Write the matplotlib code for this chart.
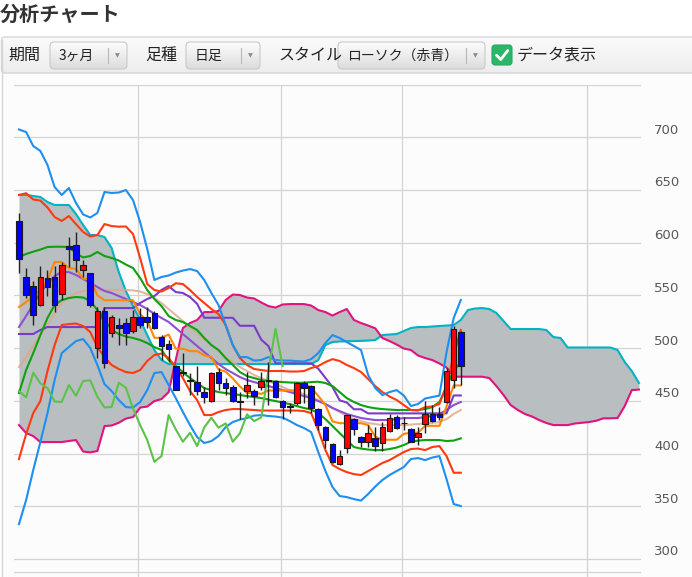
import numpy as np
import matplotlib
matplotlib.use('Agg')
import matplotlib.pyplot as plt
from matplotlib.patches import FancyBboxPatch
import matplotlib.transforms as mtransforms

plt.rcParams['font.family'] = ['Noto Sans CJK JP', 'DejaVu Sans']

W, H = 692, 577

# ---------------- data ----------------
opens = [620.6, 567.7, 558.9, 541.2, 566.8, 567.2, 551.6, 596.9, 597.8, 574.1,
         571.0, 500.4, 535.2, 514.6, 521.9, 523.5, 516.2, 529.2, 529.8, 533.0,
         510.8, 503.6, 482.6, 477.0, 469.3, 468.1, 458.6, 450.1, 477.0, 466.6,
         462.8, 449.2, 459.3, 459.3, 462.8, 469.0, 469.1, 449.8, 444.6, 447.6,
         467.2, 464.0, 441.9, 424.8, 409.0, 390.0, 405.5, 432.7, 415.4, 411.2,
         414.4, 410.2, 421.3, 435.0, 429.4, 423.0, 416.0, 427.7, 437.2, 437.2,
         448.6, 469.7, 515.0]
highs = [628.5, 575.7, 563.7, 577.9, 574.1, 578.2, 582.0, 605.1, 609.9, 583.6,
         571.5, 538.7, 538.7, 531.4, 528.3, 528.3, 536.1, 538.3, 538.7, 535.2,
         512.0, 507.7, 483.5, 495.0, 476.0, 482.6, 463.4, 477.5, 480.8, 471.3,
         465.0, 458.6, 477.6, 461.0, 477.0, 487.1, 470.0, 451.0, 447.6, 468.0,
         468.5, 465.0, 443.0, 426.0, 410.0, 403.3, 437.0, 434.0, 417.0, 427.0,
         425.4, 430.0, 437.2, 436.5, 435.0, 424.0, 425.4, 450.1, 446.0, 444.4,
         481.4, 521.2, 516.0]
lows = [571.2, 547.5, 521.9, 540.0, 549.4, 534.5, 545.6, 577.2, 572.5, 567.7,
        539.3, 490.3, 480.8, 510.8, 502.9, 502.9, 514.0, 518.8, 518.8, 517.8,
        488.7, 487.1, 460.0, 474.0, 455.5, 455.5, 447.6, 449.0, 460.5, 455.5,
        449.0, 432.4, 452.4, 446.0, 460.5, 446.0, 453.0, 432.4, 438.1, 446.0,
        448.0, 438.1, 422.3, 404.9, 391.0, 389.0, 400.2, 417.5, 406.5, 406.5,
        402.4, 402.4, 420.5, 423.0, 422.3, 410.5, 408.0, 419.7, 429.6, 432.0,
        447.6, 461.9, 465.0]
closes = [584.5, 550.4, 531.1, 567.2, 557.7, 540.6, 578.8, 594.0, 583.6, 578.8,
          540.9, 535.2, 485.6, 529.2, 518.8, 514.0, 529.2, 521.9, 525.0, 519.3,
          502.0, 499.1, 460.5, 476.0, 468.5, 459.3, 453.3, 476.7, 466.6, 462.1,
          449.4, 448.9, 465.0, 454.8, 468.8, 469.5, 453.9, 443.7, 444.2, 467.2,
          462.4, 442.9, 427.0, 412.8, 392.2, 397.6, 436.5, 423.0, 411.2, 419.7,
          407.1, 424.8, 434.0, 424.5, 428.6, 411.2, 419.2, 437.2, 430.8, 434.3,
          478.3, 518.4, 483.0]

band_blue_upper = [707.4, 705.0, 691.7, 687.0, 673.7, 652.8, 645.3, 651.9, 637.7, 626.8,
                   623.9, 628.2, 648.1, 647.2, 647.6, 650.0, 640.5, 619.6, 594.0, 564.6,
                   567.5, 568.9, 571.7, 573.6, 575.0, 573.1, 564.6, 552.3, 540.9, 521.9,
                   502.9, 491.5, 491.5, 488.2, 488.7, 491.5, 488.7, 488.2, 488.2, 487.7,
                   487.3, 489.6, 495.3, 504.8, 512.4, 509.6, 505.8, 502.0, 498.2, 474.5,
                   462.1, 455.5, 458.3, 460.2, 455.1, 445.1, 447.0, 452.2, 453.6, 455.0,
                   496.3, 528.5, 545.6]
band_blue_lower = [333.1, 355.9, 384.3, 410.9, 438.4, 469.7, 495.3, 501.0, 506.7, 508.6,
                   500.1, 484.0, 465.9, 459.3, 450.8, 444.1, 443.6, 448.9, 460.2, 476.4,
                   477.3, 465.0, 452.6, 439.4, 427.0, 415.6, 410.0, 411.8, 416.6, 425.1,
                   429.9, 432.2, 433.7, 436.0, 436.5, 435.6, 435.1, 434.1, 430.8, 427.0,
                   424.2, 420.4, 401.4, 383.4, 368.2, 359.7, 358.7, 356.8, 355.4, 361.6,
                   368.7, 374.9, 379.6, 383.4, 387.2, 394.8, 395.7, 393.8, 396.2, 397.6,
                   375.8, 352.1, 350.2]
band_red_upper = [645.3, 646.9, 641.0, 640.0, 633.4, 624.4, 620.6, 625.3, 617.7, 610.2,
                  605.9, 607.3, 617.7, 615.8, 615.2, 615.4, 608.3, 585.5, 560.8, 555.1,
                  553.7, 557.0, 561.5, 560.8, 555.1, 548.5, 542.8, 537.1, 532.3, 521.9,
                  502.9, 490.6, 484.0, 480.2, 479.2, 478.3, 478.3, 478.3, 477.8, 477.8,
                  478.3, 481.1, 483.0, 486.8, 489.6, 487.8, 484.0, 481.1, 477.3, 470.7,
                  464.0, 458.3, 454.1, 450.8, 446.0, 441.3, 440.8, 444.1, 444.6, 447.0,
                  465.0, 493.5, 517.2]
band_red_lower = [394.8, 418.5, 438.4, 449.8, 478.3, 502.9, 521.9, 522.8, 523.3, 521.0,
                  515.3, 501.0, 491.5, 484.0, 480.2, 477.3, 476.4, 479.2, 487.8, 493.5,
                  494.9, 490.6, 482.0, 471.6, 459.3, 450.8, 436.5, 436.5, 439.4, 441.3,
                  442.2, 442.2, 441.7, 441.3, 440.8, 440.8, 440.8, 440.8, 440.8, 440.8,
                  440.3, 438.4, 422.3, 403.3, 389.1, 385.3, 382.4, 380.5, 379.6, 383.4,
                  387.2, 391.0, 393.8, 397.6, 401.4, 404.3, 404.7, 403.3, 406.2, 407.1,
                  397.6, 381.8, 381.8]
band_green_upper = [586.4, 589.3, 591.5, 593.5, 595.9, 596.2, 596.2, 595.9, 589.8, 586.0,
                    587.4, 591.2, 587.4, 585.5, 583.1, 579.3, 576.0, 566.5, 555.1, 546.6,
                    539.9, 530.4, 526.7, 524.8, 521.0, 517.2, 509.6, 502.9, 498.2, 490.6,
                    484.0, 477.3, 473.5, 471.6, 469.7, 468.8, 468.3, 467.8, 467.4, 467.2,
                    467.2, 467.8, 468.1, 466.9, 464.0, 458.3, 452.6, 448.9, 446.0, 444.1,
                    442.9, 442.2, 441.7, 441.3, 441.3, 441.3, 441.3, 442.2, 444.1, 448.9,
                    463.1, 479.2, 485.9]
band_green_lower = [457.4, 479.2, 495.3, 512.4, 528.6, 540.9, 545.6, 547.5, 548.5, 548.0,
                    544.7, 536.1, 526.7, 517.2, 513.4, 511.0, 509.6, 507.7, 504.8, 501.0,
                    498.2, 488.7, 483.0, 477.3, 471.6, 466.9, 462.1, 460.2, 458.3, 457.4,
                    456.4, 455.5, 454.5, 453.6, 452.6, 451.2, 449.8, 448.4, 446.9, 445.0,
                    443.2, 441.7, 438.4, 432.7, 426.1, 419.4, 412.8, 406.2, 404.7, 403.8,
                    403.3, 403.3, 404.3, 405.7, 408.1, 411.2, 412.3, 412.8, 412.8, 412.8,
                    411.9, 412.3, 414.4]

tenkan = [539.0, 543.7, 549.4, 555.2, 564.6, 581.7, 581.7, 576.0, 575.2, 565.9,
          565.9, 550.1, 545.4, 545.4, 545.4, 545.4, 545.4, 532.2, 526.2, 509.8,
          509.8, 512.9, 499.4, 499.4, 497.1, 497.1, 493.2, 491.4, 479.8, 477.7,
          471.3, 463.7, 457.5, 457.5, 456.6, 459.8, 459.8, 459.8, 459.8, 459.8,
          466.6, 462.6, 454.7, 446.0, 430.5, 428.8, 428.8, 428.8, 428.8, 427.0,
          416.0, 413.0, 413.1, 413.1, 418.7, 419.8, 419.8, 426.3, 426.3, 426.3,
          444.7, 464.6, 464.6]
kijun = [513.4, 513.4, 513.4, 517.2, 520.0, 520.0, 520.0, 520.0, 520.0, 520.0,
         520.0, 520.0, 538.0, 538.0, 538.0, 538.0, 538.0, 542.8, 546.6, 549.4,
         555.2, 558.9, 553.2, 552.3, 548.5, 542.0, 528.8, 528.8, 528.8, 528.8,
         528.8, 521.2, 521.2, 521.2, 508.0, 502.0, 485.6, 485.6, 485.6, 485.6,
         485.6, 485.6, 480.5, 471.8, 463.1, 450.5, 448.4, 442.0, 442.0, 438.1,
         438.1, 438.1, 438.1, 438.1, 438.1, 438.1, 438.1, 438.1, 438.1, 438.1,
         438.1, 455.1, 455.1]
ma_purple = [520.0, 530.4, 541.8, 552.3, 561.7, 568.4, 572.2, 572.2, 569.4, 565.6,
             561.7, 558.0, 554.2, 552.3, 549.4, 546.6, 543.7, 540.9, 537.1, 532.4,
             528.6, 524.8, 519.1, 513.4, 507.7, 502.0, 496.3, 490.6, 484.9, 480.2,
             476.4, 472.6, 469.7, 467.8, 465.9, 464.0, 462.1, 460.2, 458.3, 456.4,
             454.5, 452.6, 449.8, 447.0, 443.2, 440.3, 437.5, 435.6, 433.7, 432.7,
             431.8, 431.8, 431.8, 432.7, 433.7, 433.7, 433.7, 434.6, 435.6, 437.5,
             441.3, 446.0, 448.9]
ma_tan = [482.0, 491.5, 502.0, 512.4, 521.9, 532.4, 542.8, 548.5, 552.3, 554.2,
          555.2, 555.2, 555.2, 555.2, 555.2, 555.2, 554.7, 553.7, 551.3, 547.5,
          542.8, 537.1, 531.4, 525.7, 520.0, 514.3, 508.6, 502.9, 497.2, 491.5,
          486.8, 482.0, 478.3, 474.5, 471.6, 468.8, 465.9, 463.1, 460.2, 458.3,
          456.4, 453.6, 450.8, 447.0, 443.2, 439.4, 435.6, 432.7, 430.8, 429.0,
          428.0, 427.0, 427.0, 427.0, 427.0, 427.5, 428.0, 428.5, 429.0, 429.9,
          432.7, 437.5, 441.3]

span_teal = [645.3, 645.3, 644.3, 643.4, 638.6, 635.8, 635.8, 635.8, 627.2, 616.8,
             607.3, 607.3, 605.4, 595.0, 572.2, 554.2, 540.0, 526.7, 512.4, 498.2,
             488.7, 484.9, 484.9, 484.9, 484.9, 484.9, 484.9, 484.9, 484.9, 484.9,
             484.9, 484.9, 484.9, 484.9, 484.9, 484.9, 484.9, 484.9, 484.9, 484.9,
             484.9, 484.9, 488.7, 502.9, 505.8, 506.3, 506.5, 506.7, 506.9, 507.2,
             507.7, 512.4, 512.9, 513.4, 516.2, 519.1, 520.0, 520.0, 520.5, 521.0,
             521.4, 521.9, 526.7, 536.1, 537.6, 538.0, 537.1, 533.3, 525.7, 518.1,
             518.1, 518.1, 518.1, 518.1, 517.2, 510.5, 509.6, 500.6, 500.6, 500.6,
             500.6, 500.6, 500.6, 500.6, 498.2, 486.8, 478.3, 466.9]
span_magenta = [427.0, 419.4, 416.6, 410.9, 410.9, 410.9, 410.9, 411.9, 412.8, 401.9,
                401.1, 402.4, 426.1, 426.6, 429.2, 433.2, 434.6, 443.6, 444.6, 449.8,
                451.7, 458.3, 488.7, 519.1, 523.8, 526.7, 534.2, 534.2, 535.2, 545.6,
                550.8, 550.4, 548.0, 547.1, 543.3, 539.9, 538.5, 541.4, 541.8, 541.8,
                541.8, 540.4, 536.1, 534.2, 530.9, 534.2, 537.1, 526.7, 523.8, 521.4,
                518.8, 509.6, 506.7, 503.4, 499.6, 498.2, 493.0, 490.6, 488.7, 485.4,
                481.6, 472.9, 472.9, 472.9, 472.9, 472.9, 471.6, 464.0, 455.5, 446.0,
                441.3, 437.5, 435.1, 431.8, 429.0, 427.0, 427.0, 427.0, 428.5, 429.2,
                429.9, 431.1, 433.4, 433.4, 433.7, 445.0, 460.2, 460.7]

chikou_shift = 25
y_ticks = [300, 350, 400, 450, 500, 550, 600, 650, 700, 750]
y_tick_labels = ['300', '350', '400', '450', '500', '550', '600', '650', '700']
month_grid = [16.7, 36.77, 53.75, 79.7]

# ---------------- figure ----------------
fig = plt.figure(figsize=(W / 100, H / 100), dpi=100, facecolor='white')

ui = fig.add_axes([0, 0, 1, 1], zorder=0)
ui.set_xlim(0, W)
ui.set_ylim(H, 0)
ui.axis('off')


def grad_box(x0, y0, x1, y1, ctop, cbot, edge, r, lw=0.8, z=1):
    patch = FancyBboxPatch((x0, y0), x1 - x0, y1 - y0,
                           boxstyle=f"round,pad=0,rounding_size={r}",
                           facecolor='none', edgecolor=edge, lw=lw, zorder=z + 0.5)
    ui.add_patch(patch)
    t = np.linspace(0, 1, 64)[:, None, None]
    c0 = np.array(matplotlib.colors.to_rgb(ctop))[None, None, :]
    c1 = np.array(matplotlib.colors.to_rgb(cbot))[None, None, :]
    img = np.repeat(c0 * (1 - t) + c1 * t, 2, axis=1)
    im = ui.imshow(img, extent=(x0, x1, y1, y0), aspect='auto', zorder=z,
                   interpolation='bilinear')
    im.set_clip_path(patch)


ui.text(0, 14, '分析チャート', fontsize=14.5, fontweight='bold', color='#333333',
        va='center', ha='left')

ui.plot([1.5, 1.5], [40, H], color='#d3d6d9', lw=1.0, zorder=2)
grad_box(1.5, 37, W + 10, 73, '#fbfbfb', '#ededed', '#d3d6d9', 3, lw=1.0, z=1)
ui.add_patch(plt.Rectangle((2, 73.5), W, H - 73, facecolor='#fcfcfc', edgecolor='none', zorder=0.5))

label_kw = dict(fontsize=11.5, color='#222222', va='center', ha='left', zorder=5)
ui.text(8, 55, '期間', **label_kw)
ui.text(145, 55, '足種', **label_kw)
ui.text(278, 55, 'スタイル', **label_kw)

dropdowns = [(50, 127, '3ヶ月', 108), (186, 260, '日足', 241), (338, 485, 'ローソク（赤青）', 466)]
for x0, x1, txt, sep in dropdowns:
    grad_box(x0, 42, x1, 69, '#fdfdfd', '#dcdcdc', '#c9c9c9', 4, lw=0.8, z=3)
    ui.text(x0 + 9, 55.5, txt, fontsize=10, color='#222222', va='center', ha='left', zorder=6)
    ui.plot([sep, sep], [47.5, 63], color='#b8b8b8', lw=0.8, zorder=6)
    ui.text(sep + 9, 55.5, '▼', fontsize=4.5, color='#8a8a8a', va='center', ha='center',
            family='DejaVu Sans', zorder=6)

cb = FancyBboxPatch((492, 45), 20, 20, boxstyle="round,pad=0,rounding_size=3",
                    facecolor='#2db56a', edgecolor='#28a862', lw=0.8, zorder=6)
ui.add_patch(cb)
ui.plot([496.5, 500.8, 507.8], [55.2, 59.5, 50.5], color='white', lw=2.0,
        solid_capstyle='round', solid_joinstyle='round', zorder=7)
ui.text(517, 55, 'データ表示', **label_kw)

# ---------------- chart axes ----------------
px_top, px_bot, px_left, px_right = 85, 577, 14, 641
ax = fig.add_axes([px_left / W, 1 - px_bot / H, (px_right - px_left) / W, (px_bot - px_top) / H],
                  zorder=2)
ax.set_facecolor('#fcfcfc')
ax.set_xlim(-0.70, 87.29)
ax.set_ylim(282.9, 749.6)
for s in ax.spines.values():
    s.set_visible(False)
ax.set_xticks([])
ax.set_yticks([])

grid_c = '#d4d4d4'
for v in y_ticks:
    ax.axhline(v, color=grid_c, lw=0.9, zorder=0.2)
ax.axhline(287.6, color=grid_c, lw=0.9, zorder=0.2)
for gx in month_grid:
    ax.axvline(gx, color=grid_c, lw=0.9, zorder=0.2)

trans = mtransforms.blended_transform_factory(fig.transFigure, ax.transData) + \
    mtransforms.ScaledTranslation(0, 7 / 100, fig.dpi_scale_trans)
for lab in y_tick_labels:
    ax.text(654 / W, float(lab), lab, transform=trans, fontsize=9.5, color='#585858',
            va='center', ha='left', family='DejaVu Sans', clip_on=False)

# ichimoku cloud
xc = np.arange(len(span_teal))
ax.fill_between(xc, span_teal, span_magenta, color='#b9bec0', lw=0, zorder=1)
ax.plot(xc, span_teal, color='#00b3c4', lw=1.5, zorder=2)
ax.plot(xc, span_magenta, color='#e0147f', lw=1.5, zorder=2)

xi = np.arange(len(closes))
lw = 1.5
ax.plot(xi, ma_tan, color='#d9a98a', lw=lw, alpha=0.8, zorder=3)
ax.plot(xi, ma_purple, color='#8f4fd0', lw=lw, zorder=3)
ax.plot(xi, kijun, color='#7a3cc8', lw=lw, zorder=3)
ax.plot(xi, tenkan, color='#ff8800', lw=lw, zorder=3)
ax.plot(xi, band_green_upper, color='#10a010', lw=lw, zorder=3)
ax.plot(xi, band_green_lower, color='#10a010', lw=lw, zorder=3)
ax.plot(xi, band_red_upper, color='#ff3a10', lw=lw, zorder=3)
ax.plot(xi, band_red_lower, color='#ff3a10', lw=lw, zorder=3)
ax.plot(xi, band_blue_upper, color='#1e8fef', lw=lw, zorder=3)
ax.plot(xi, band_blue_lower, color='#1e8fef', lw=lw, zorder=3)

xch = np.arange(len(closes) - chikou_shift)
ax.plot(xch, closes[chikou_shift:], color='#5cc24a', lw=lw, zorder=3)

# candles
o = np.array(opens); c = np.array(closes); hi = np.array(highs); lo = np.array(lows)
up = c >= o
ax.vlines(xi, lo, hi, color='#222222', lw=1.0, zorder=5)
body_h = np.where(np.abs(c - o) < 0.6, 0.6, c - o)
ax.bar(xi, body_h, bottom=o, width=0.78, color=np.where(up, '#ff0000', '#0000ff'),
       edgecolor='#1a1a1a', lw=0.8, zorder=6)

fig.savefig('out.png', dpi=100, facecolor='white')
